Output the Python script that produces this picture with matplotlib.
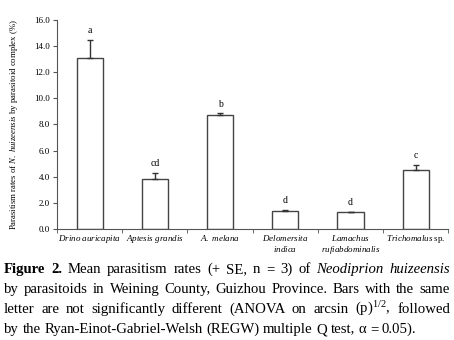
import matplotlib
matplotlib.use('Agg')
import matplotlib.pyplot as plt
import numpy as np

plt.rcParams['font.family'] = 'Liberation Serif'
plt.rcParams['mathtext.fontset'] = 'custom'
plt.rcParams['mathtext.rm'] = 'Liberation Serif'
plt.rcParams['mathtext.it'] = 'Liberation Serif:italic'
plt.rcParams['mathtext.bf'] = 'Liberation Serif:bold'

# datos
especies = [r'$\mathit{Drino\ auricapita}$', r'$\mathit{Aptesis\ grandis}$',
            r'$\mathit{A.\ melana}$', '$\\mathit{Delomersita}$\n$\\mathit{indica}$',
            '$\\mathit{Lamachus}$\n$\\mathit{rufiabdominalis}$', r'$\mathit{Trichomalus}$ sp.']
medias = [13.1, 3.8, 8.7, 1.4, 1.3, 4.5]
errores = [1.4, 0.5, 0.15, 0.05, 0.0, 0.4]
letras = ['a', 'cd', 'b', 'd', 'd', 'c']

fig = plt.figure(figsize=(4.54, 3.4), dpi=100)
ax = fig.add_axes([0.1256, 0.3265, 0.862, 0.6147])

x = np.arange(len(medias))
ax.bar(x, medias, width=0.4, color='white', edgecolor='#444444', linewidth=1.0,
       yerr=[np.zeros(len(errores)), errores],
       error_kw=dict(ecolor='#333333', elinewidth=1.0, capsize=2, capthick=1.0))
for xi, m, e, l in zip(x, medias, errores, letras):
    ax.text(xi, m + e + 0.35, l, ha='center', va='bottom', fontsize=7)

ax.set_xlim(-0.5, len(medias) - 0.5)
ax.set_ylim(0, 16)
ax.set_yticks(np.arange(0, 16.1, 2))
ax.set_yticklabels(['%.1f' % v for v in np.arange(0, 16.1, 2)], fontsize=6.5)
ax.set_xticks(x)
ax.set_xticklabels(especies, fontsize=6.5, linespacing=1.1)
ax.tick_params(axis='x', length=0, pad=3)
ax.set_xticks(np.arange(-0.5, len(medias), 1), minor=True)
ax.tick_params(axis='x', which='minor', length=3, direction='out', color='#555555')
ax.tick_params(axis='y', length=3, direction='out', pad=2, color='#555555')
ax.spines['top'].set_visible(False)
ax.spines['right'].set_visible(False)
ax.spines['left'].set_color('#555555')
ax.spines['bottom'].set_color('#555555')
ax.set_ylabel(r'Parasitism rates of $\mathit{N.\ huizeensis}$ by parasitoid complex (%)',
              fontsize=6.3, labelpad=10)

# pie de figura, justificado palabra a palabra
fs = 10.6
lineas = [
    [('Figure', 'bold'), ('2.', 'bold'), ('Mean', ''), ('parasitism', ''), ('rates', ''),
     ('(+', ''), ('SE,', ''), ('n', ''), ('=', ''), ('3)', ''), ('of', ''),
     ('Neodiprion', 'italic'), ('huizeensis', 'italic')],
    [(w, '') for w in 'by parasitoids in Weining County, Guizhou Province. Bars with the same'.split()],
    [(w, '') for w in r'letter are not significantly different (ANOVA on arcsin (p)$^{1/2}$, followed'.split()],
    [(w, '') for w in 'by the Ryan-Einot-Gabriel-Welsh (REGW) multiple Q test, α = 0.05).'.split()],
]
ys = [0.197, 0.138, 0.079, 0.020]
x0, x1 = 4, 450
renderer = fig.canvas.get_renderer()
for i, (linea, y) in enumerate(zip(lineas, ys)):
    textos = []
    for w, st in linea:
        kw = {}
        if st == 'bold':
            kw['fontweight'] = 'bold'
        if st == 'italic':
            kw['style'] = 'italic'
        textos.append(fig.text(0, y, w, fontsize=fs, **kw))
    anchos = [t.get_window_extent(renderer).width for t in textos]
    if i < len(lineas) - 1:
        hueco = (x1 - x0 - sum(anchos)) / (len(textos) - 1)
    else:
        hueco = fs * 100 / 72 * 0.25
    pos = x0
    for t, a in zip(textos, anchos):
        t.set_x(pos / 454)
        pos += a + hueco

fig.savefig('out.png', dpi=100)
